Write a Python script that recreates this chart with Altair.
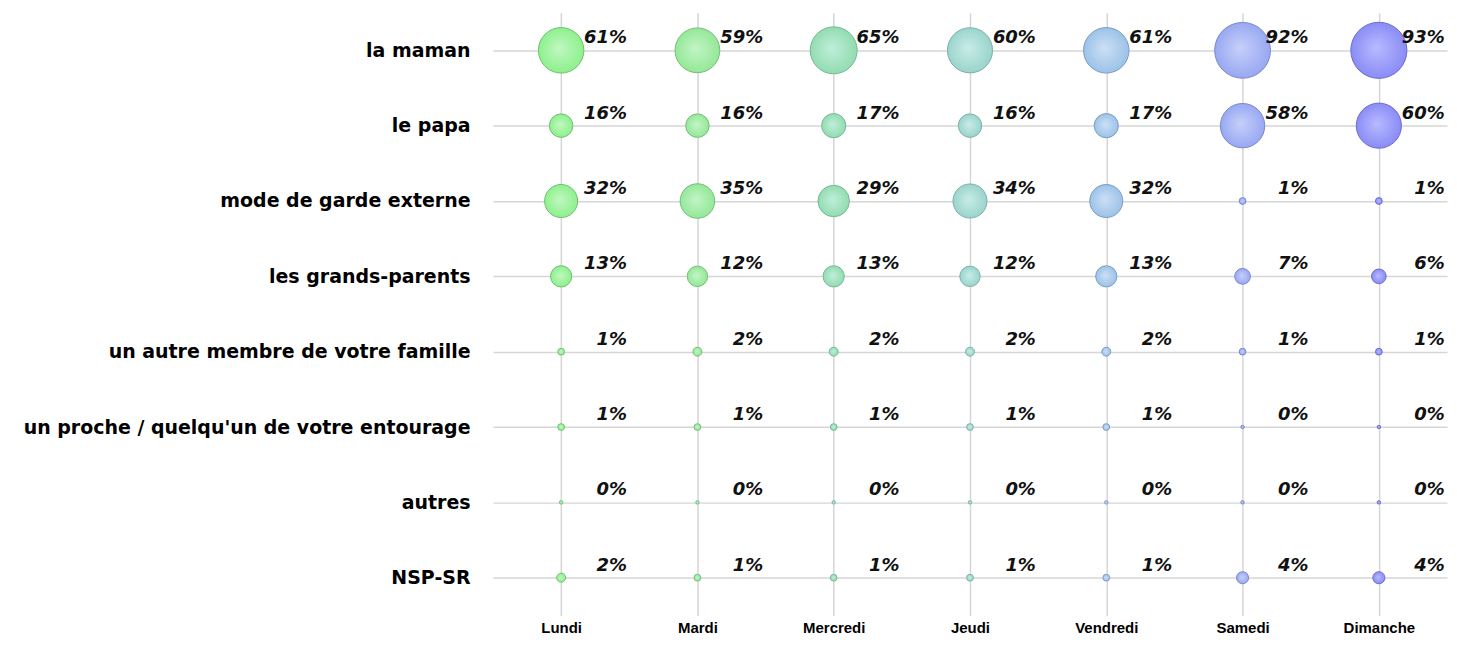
import altair as alt
import pandas as pd

days = ["Lundi", "Mardi", "Mercredi", "Jeudi", "Vendredi", "Samedi", "Dimanche"]
categories = [
    "la maman",
    "le papa",
    "mode de garde externe",
    "les grands-parents",
    "un autre membre de votre famille",
    "un proche / quelqu'un de votre entourage",
    "autres",
    "NSP-SR",
]
la_maman = [61, 59, 65, 60, 61, 92, 93]
le_papa = [16, 16, 17, 16, 17, 58, 60]
mode_garde = [32, 35, 29, 34, 32, 1, 1]
grands_parents = [13, 12, 13, 12, 13, 7, 6]
autre_membre = [1, 2, 2, 2, 2, 1, 1]
proche = [1, 1, 1, 1, 1, 0, 0]
autres = [0, 0, 0, 0, 0, 0, 0]
nsp = [2, 1, 1, 1, 1, 4, 4]
series = [la_maman, le_papa, mode_garde, grands_parents, autre_membre, proche, autres, nsp]

base_colors = ["#8ef08e", "#94e898", "#92dcb0", "#9ad4cc", "#9cc2e8", "#98a8f2", "#8a8cf6"]
light_colors = ["#c0f8c0", "#c2f4c6", "#c0eedb", "#c8ece8", "#cce0f6", "#c6d0fa", "#b8baff"]
stroke_colors = ["#6cc06c", "#74bc7a", "#74b896", "#7cb0aa", "#7c9cc4", "#7888cc", "#6a6cd0"]

rows = []
for cat, vals in zip(categories, series):
    for d, v in zip(days, vals):
        rows.append({"cat": cat, "day": d, "value": v, "label": f"{v}%"})
df = pd.DataFrame(rows)

W, H = 956, 604

x_enc = alt.X("day:N", sort=days, scale=alt.Scale(type="point", padding=0.5), title=None,
              axis=alt.Axis(orient="bottom", grid=True, ticks=False, domain=False,
                            labelFont="Liberation Sans", labelFontWeight="bold",
                            labelFontSize=15, labelColor="#000", labelPadding=5,
                            labelAngle=0, gridColor="#d6d6d6", gridWidth=1.5))
y_enc = alt.Y("cat:N", sort=categories, scale=alt.Scale(type="point", padding=0.5), title=None,
              axis=alt.Axis(grid=True, ticks=False, domain=False,
                            labelFont="DejaVu Sans", labelFontWeight="bold",
                            labelFontSize=19, labelColor="#000", labelPadding=23,
                            labelLimit=600, gridColor="#d6d6d6", gridWidth=1.5))
size_enc = alt.Size("value:Q", scale=alt.Scale(domain=[0, 100], range=[12, 3400]), legend=None)

layers = []
for i, d in enumerate(days):
    grad = alt.Gradient(
        gradient="radial",
        stops=[alt.GradientStop(color=light_colors[i], offset=0),
               alt.GradientStop(color=base_colors[i], offset=1)],
        x1=0.45, y1=0.45, r1=0, x2=0.5, y2=0.5, r2=0.5,
    )
    layer = alt.Chart(df).transform_filter(alt.datum.day == d).mark_circle(
        fill=grad, stroke=stroke_colors[i], strokeWidth=1, opacity=1
    ).encode(x=x_enc, y=y_enc, size=size_enc)
    layers.append(layer)

text = alt.Chart(df).mark_text(
    align="right", baseline="middle", dx=66, dy=-12,
    font="DejaVu Sans", fontStyle="italic", fontWeight="bold", fontSize=18, color="#111"
).encode(x=x_enc, y=y_enc, text="label:N")

chart = alt.layer(*layers, text).properties(
    width=W, height=H,
    autosize=alt.AutoSizeParams(type="none"),
    padding={"left": 486, "top": 4, "right": 2, "bottom": 22},
).configure(background="white").configure_view(stroke=None)

chart.save("out.html", embed_options={"renderer": "svg", "actions": False})
